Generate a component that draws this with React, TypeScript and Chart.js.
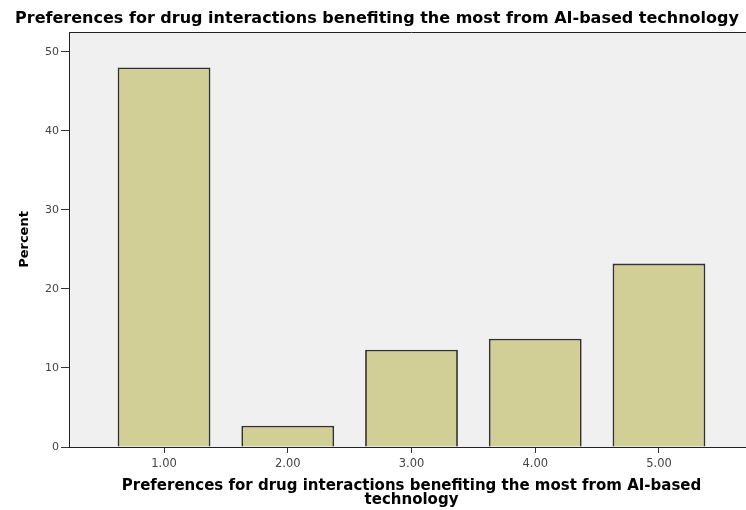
import React, { useEffect, useRef } from "react";
import { Chart, registerables } from "chart.js";

Chart.register(...registerables);

const categories = [1, 2, 3, 4, 5];
const percentValues = [48.0, 2.7, 12.3, 13.7, 23.2];
const yTicks = [0, 10, 20, 30, 40, 50];
const titleText = "Preferences for drug interactions benefiting the most from AI-based technology";
const xTitleLines = ["Preferences for drug interactions benefiting the most from AI-based", "technology"];
const yTitleText = "Percent";

const W = 760;
const H = 510;

const bgPlugin = {
  id: "plotBg",
  beforeDraw(chart: any) {
    const { ctx, chartArea } = chart;
    ctx.save();
    ctx.fillStyle = "#f0f0f0";
    ctx.fillRect(chartArea.left, chartArea.top, chartArea.right - chartArea.left, chartArea.bottom - chartArea.top);
    ctx.restore();
  },
  afterDraw(chart: any) {
    const { ctx, chartArea } = chart;
    ctx.save();
    ctx.strokeStyle = "#222";
    ctx.lineWidth = 1;
    ctx.beginPath();
    ctx.moveTo(chartArea.left, chartArea.top + 0.5);
    ctx.lineTo(chartArea.right, chartArea.top + 0.5);
    ctx.stroke();
    ctx.restore();
  },
};

export default function App() {
  const ref = useRef<HTMLCanvasElement | null>(null);
  useEffect(() => {
    if (!ref.current) return;
    const chart = new Chart(ref.current, {
      type: "bar",
      data: {
        datasets: [
          {
            label: yTitleText,
            data: categories.map((c, i) => ({ x: c, y: percentValues[i] })),
            backgroundColor: "#d2cf96",
            borderColor: "#33332e",
            borderWidth: 1.8,
            barPercentage: 0.75,
            categoryPercentage: 1,
          },
        ],
      },
      plugins: [bgPlugin],
      options: {
        responsive: false,
        animation: false,
        layout: { padding: { left: 0, right: 6, top: 0, bottom: 0 } },
        plugins: {
          legend: { display: false },
          tooltip: { enabled: false },
          title: {
            display: true,
            text: titleText,
            color: "#000",
            font: { family: "DejaVu Sans", size: 16, weight: "bold", lineHeight: 1.2 },
            padding: { top: 8.9, bottom: 3.9 },
          },
        },
        scales: {
          x: {
            type: "linear",
            offset: false,
            min: 0.232,
            max: 5.768,
            afterFit: (s: any) => {
              s.height = 63;
            },
            border: { display: true, color: "#222", width: 1 },
            grid: { display: true, offset: false, drawOnChartArea: false, drawTicks: true, tickLength: 6, color: "#333" },
            ticks: {
              stepSize: 1,
              includeBounds: false,
              autoSkip: false,
              maxRotation: 0,
              padding: 4.4,
              color: "#444",
              font: { family: "DejaVu Sans", size: 11.5 },
              callback: (v: any) => (Number.isInteger(v) ? Number(v).toFixed(2) : ""),
            },
            title: {
              display: true,
              text: xTitleLines,
              color: "#000",
              font: { family: "DejaVu Sans", size: 15, weight: "bold", lineHeight: 0.93 },
              padding: { top: 0, bottom: 3 },
            },
          },
          y: {
            min: 0,
            max: 52.5,
            afterFit: (s: any) => {
              s.width = 69;
            },
            border: { display: true, color: "#222", width: 1 },
            grid: { display: true, drawOnChartArea: false, drawTicks: true, tickLength: 8, color: "#333" },
            afterBuildTicks: (s: any) => {
              s.ticks = yTicks.map((v) => ({ value: v }));
            },
            ticks: {
              includeBounds: false,
              padding: 2,
              color: "#444",
              font: { family: "DejaVu Sans", size: 11 },
            },
            title: {
              display: true,
              text: yTitleText,
              color: "#000",
              font: { family: "DejaVu Sans", size: 13, weight: "bold", lineHeight: 1.2 },
              padding: { top: 16.7, bottom: 0 },
            },
          },
        },
      },
    } as any);
    return () => chart.destroy();
  }, []);
  return (
    <div style={{ position: "fixed", left: 0, top: 0, width: 746, height: 510, overflow: "hidden", background: "#fff" }}>
      <canvas ref={ref} width={W} height={H} style={{ display: "block", width: W, height: H }} />
    </div>
  );
}
